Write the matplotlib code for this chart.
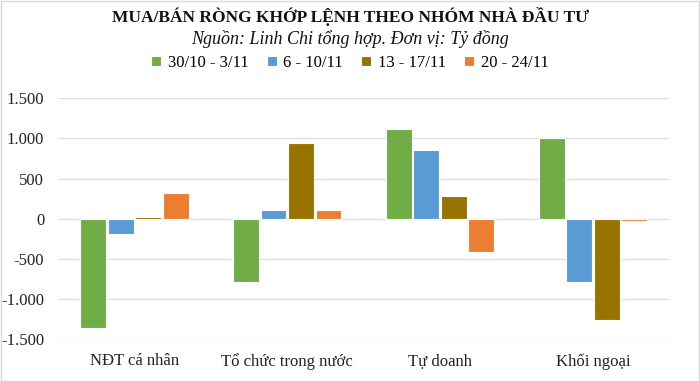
import matplotlib.pyplot as plt
import numpy as np
from matplotlib.patches import Rectangle
from matplotlib.ticker import FuncFormatter

plt.rcParams['font.family'] = ['Liberation Serif', 'DejaVu Serif']

categories = ['NĐT cá nhân', 'Tổ chức trong nước', 'Tự doanh', 'Khối ngoại']
series_names = ['30/10 - 3/11', '6 - 10/11', '13 - 17/11', '20 - 24/11']
week1 = [-1357, -780, 1117, 1008]
week2 = [-190, 105, 859, -780]
week3 = [25, 946, 283, -1257]
week4 = [316, 112, -411, -25]
colors = ['#70AD47', '#5B9BD5', '#997300', '#ED7D31']

fig = plt.figure(figsize=(7, 3.81), dpi=100)
ax = fig.add_axes([0.083, 0.109, 0.873, 0.633])

x = np.arange(len(categories))
width = 0.17
offsets = [-0.27, -0.09, 0.09, 0.27]
for vals, name, c, off in zip([week1, week2, week3, week4], series_names, colors, offsets):
    ax.bar(x + off, vals, width, color=c, edgecolor='white', linewidth=0.8, label=name, zorder=3)

ax.set_xlim(-0.5, 3.5)
ax.set_ylim(-1500, 1500)
ax.set_yticks(np.arange(-1500, 1501, 500))
ax.yaxis.set_major_formatter(FuncFormatter(lambda v, p: f'{int(v):,}'.replace(',', '.')))
ax.set_xticks(x)
ax.set_xticklabels(categories)
ax.tick_params(length=0, labelsize=12, colors='#222222')
ax.tick_params(axis='x', pad=10)
ax.tick_params(axis='y', pad=10)
ax.grid(axis='y', color='#E0E0E0', linewidth=1, zorder=0)
for s in ax.spines.values():
    s.set_visible(False)

fig.text(0.5, 0.958, 'MUA/BÁN RÒNG KHỚP LỆNH THEO NHÓM NHÀ ĐẦU TƯ',
         ha='center', va='center', fontsize=12.5, fontweight='bold', color='#111111')
fig.text(0.5, 0.898, 'Nguồn: Linh Chi tổng hợp. Đơn vị: Tỷ đồng',
         ha='center', va='center', fontsize=13, style='italic', color='#111111')
fig.legend(loc='center', bbox_to_anchor=(0.5, 0.835), ncol=4, frameon=False,
           fontsize=12, handlelength=0.6, handleheight=0.6, handletextpad=0.4,
           columnspacing=1.1)

fig.patches.append(Rectangle((0.001, 0.001), 0.997, 0.997, transform=fig.transFigure,
                             fill=False, edgecolor='#D9D9D9', linewidth=1))

fig.savefig('out.png', dpi=100)
